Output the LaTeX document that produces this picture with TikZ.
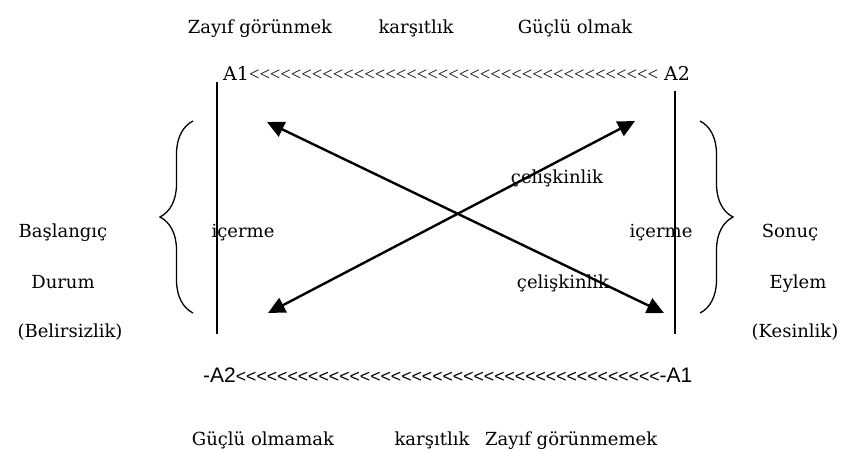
\documentclass[tikz,border=0pt]{standalone}
\usepackage{fontspec}
\setmainfont{DejaVu Serif}
\newfontfamily\chainfont{Liberation Serif}
\newfontfamily\chainsans{Liberation Sans}
\usetikzlibrary{arrows.meta,decorations.pathreplacing}
\newcommand\ltchain[1]{\foreach \k in {1,...,#1}{<}}
\tikzset{
  lbl/.style={inner sep=0pt,font=\fontsize{18}{20}\selectfont,anchor=base},
  chainline/.style={inner sep=0pt,anchor=base west},
  axis/.style={line width=1.5pt},
  opp/.style={{Triangle[length=17pt,width=16pt]}-{Triangle[length=17pt,width=16pt]},line width=2.4pt},
  curly/.style={decorate,decoration={brace,amplitude=33pt},line width=1.3pt},
}
\begin{document}
\begin{tikzpicture}[x=1pt,y=1pt]
\useasboundingbox (0,0) rectangle (845,-451);
% top row
\node[lbl] (zg) at (260,-33) {Zayıf görünmek};
\node[lbl] (k1) at (416,-33) {karşıtlık};
\node[lbl] (go) at (575,-33) {Güçlü olmak};
\node[chainline,font=\fontsize{19}{20}\selectfont] (top) at (223,-80)
  {A1{\chainfont\fontsize{18.6}{20}\selectfont\ltchain{39}} A2};
% bottom row
\node[chainline,font=\chainsans\fontsize{21}{22}\selectfont] (bot) at (203,-382)
  {-A2{\fontsize{17.7}{20}\selectfont\ltchain{41}}-A1};
\node[lbl] (gom) at (263,-445) {Güçlü olmamak};
\node[lbl] (k2) at (432,-445) {karşıtlık};
\node[lbl,anchor=base west] (zgm) at (485,-445) {Zayıf görünmemek};
% side labels
\node[lbl] (bas) at (63,-237) {Başlangıç};
\node[lbl] (dur) at (63,-288) {Durum};
\node[lbl] (bel) at (70,-337) {(Belirsizlik)};
\node[lbl] (son) at (790,-237) {Sonuç};
\node[lbl] (eyl) at (798,-288) {Eylem};
\node[lbl] (kes) at (795,-337) {(Kesinlik)};
\node[lbl] (ic1) at (243,-237) {içerme};
\node[lbl] (ic2) at (661,-237) {içerme};
\node[lbl] (ce1) at (557,-183) {çelişkinlik};
\node[lbl] (ce2) at (563,-288) {çelişkinlik};
% lines and arrows
\coordinate (lt) at (217,-82);  \coordinate (lb) at (217,-334);
\coordinate (rt) at (675,-91);  \coordinate (rb) at (675,-334);
\coordinate (nw) at (267,-122); \coordinate (se) at (664,-313);
\coordinate (ne) at (635,-121); \coordinate (sw) at (268,-313);
\draw[axis] (lt) -- (lb);
\draw[axis] (rt) -- (rb);
\draw[opp] (nw) -- (se);
\draw[opp] (sw) -- (ne);
\draw[curly] (193,-313) -- (193,-121);
\draw[curly] (700,-121) -- (700,-313);
\end{tikzpicture}
\end{document}
